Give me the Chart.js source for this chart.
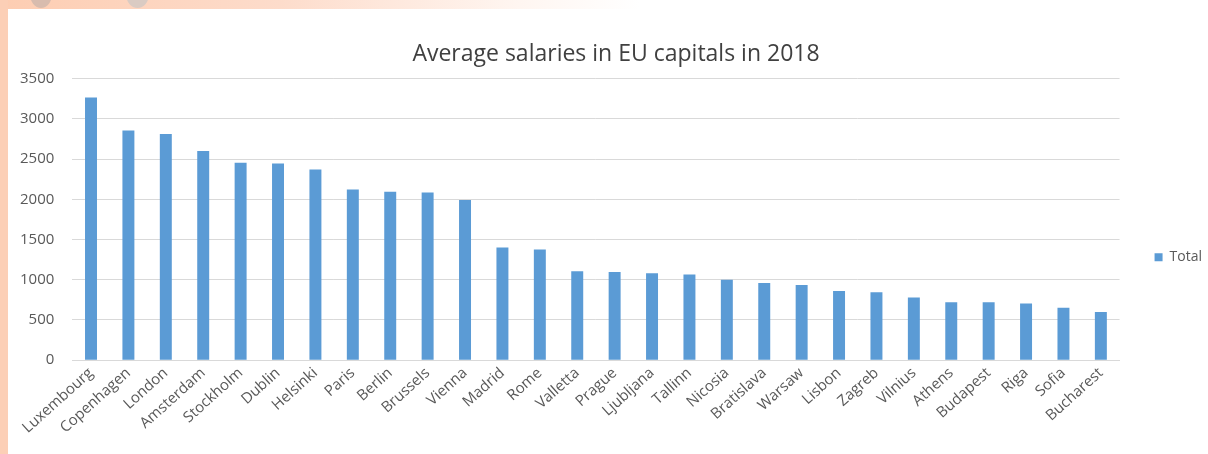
<!DOCTYPE html>
<html>
<head>
<meta charset="utf-8">
<title>Average salaries in EU capitals in 2018</title>
<script src="https://cdn.jsdelivr.net/npm/chart.js@4.4.1/dist/chart.umd.min.js"></script>
<style>
  html, body { margin: 0; padding: 0; }
  body {
    width: 1208px; height: 454px; overflow: hidden; position: relative;
    background: linear-gradient(90deg, #fdcdb2 0px, #fddccb 280px, #fff6f1 520px, #ffffff 640px);
  }
  .side { position: absolute; left: 0; top: 0; width: 8px; height: 454px; background: #fccfb6; }
  .dot { position: absolute; border-radius: 50%; }
  .panel { position: absolute; left: 8px; top: 9px; width: 1200px; height: 445px; background: #fff; overflow: hidden; }
  .wrap { position: absolute; left: 0; top: 0; }
</style>
</head>
<body>
<div class="side"></div>
<div class="dot" style="left:30px; top:-20px; width:22px; height:28px; background:#d8bcae;"></div>
<div class="dot" style="left:126px; top:-20px; width:23px; height:28px; background:#dacbc3;"></div>
<div class="panel">
  <div class="wrap"><canvas id="chart" width="1204" height="445"></canvas></div>
</div>
<script>
// Average monthly salaries (EUR)
const cities = [
  'Luxembourg', 'Copenhagen', 'London', 'Amsterdam', 'Stockholm', 'Dublin', 'Helsinki',
  'Paris', 'Berlin', 'Brussels', 'Vienna', 'Madrid', 'Rome', 'Valletta', 'Prague',
  'Ljubljana', 'Tallinn', 'Nicosia', 'Bratislava', 'Warsaw', 'Lisbon', 'Zagreb',
  'Vilnius', 'Athens', 'Budapest', 'Riga', 'Sofia', 'Bucharest'
];
const totals = [
  3265, 2855, 2810, 2600, 2455, 2445, 2370,
  2120, 2095, 2085, 1990, 1400, 1375, 1105, 1095,
  1080, 1065, 1000, 960, 935, 860, 845,
  780, 720, 720, 705, 650, 600
];
const yMin = 0;
const yMax = 3500;
const yStep = 500;

const gridColor = '#d9d9d9';
const textColor = '#595959';
const fontFamily = '"Open Sans", "Liberation Sans", sans-serif';

new Chart(document.getElementById('chart'), {
  type: 'bar',
  data: {
    labels: cities,
    datasets: [{
      label: 'Total',
      data: totals,
      backgroundColor: '#5b9bd5',
      borderWidth: 0,
      barPercentage: 0.32,
      categoryPercentage: 1.0
    }]
  },
  options: {
    responsive: false,
    animation: false,
    layout: { padding: { left: 12, right: 0, top: 0, bottom: 13 } },
    plugins: {
      title: {
        display: true,
        text: 'Average salaries in EU capitals in 2018',
        color: '#404040',
        font: { family: fontFamily, size: 23, weight: 'normal' },
        padding: { top: 32, bottom: 10 }
      },
      legend: {
        position: 'right',
        title: { display: true, text: '', padding: { top: 50, bottom: 0 } },
        labels: {
          color: textColor,
          font: { family: fontFamily, size: 14 },
          boxWidth: 8,
          boxHeight: 8,
          padding: 35
        }
      },
      tooltip: { enabled: false }
    },
    scales: {
      x: {
        grid: { display: false, drawTicks: false },
        border: { display: true, color: gridColor },
        ticks: {
          color: textColor,
          font: { family: fontFamily, size: 15 },
          minRotation: 42,
          maxRotation: 42,
          autoSkip: false,
          padding: 4
        }
      },
      y: {
        min: yMin,
        max: yMax,
        grid: { color: gridColor, drawTicks: false },
        border: { display: false },
        ticks: {
          stepSize: yStep,
          color: textColor,
          font: { family: fontFamily, size: 15 },
          padding: 18,
          callback: (v) => String(v)
        },
        // chart.js reserves the tick padding on both sides of the labels; keep only the inner gap
        afterFit: (scale) => { scale.width -= scale.options.ticks.padding; }
      }
    }
  }
});
</script>
</body>
</html>
